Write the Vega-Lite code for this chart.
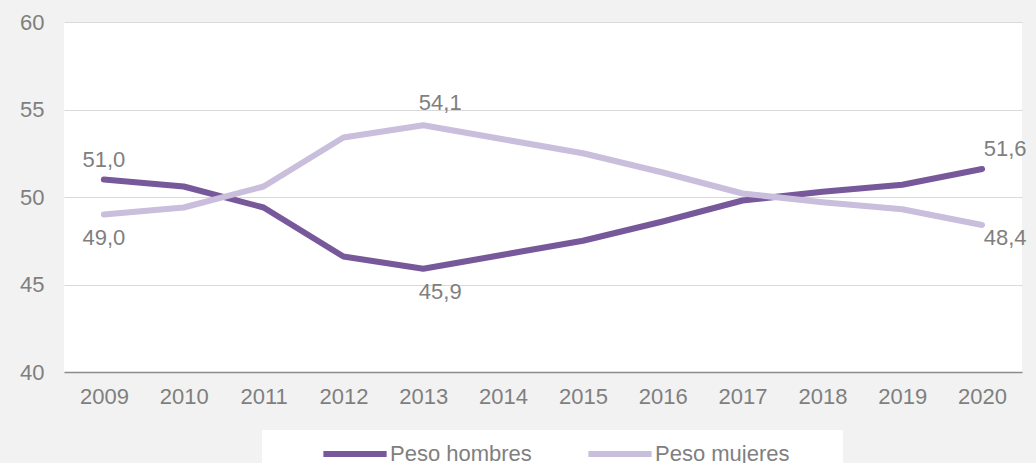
{
  "$schema": "https://vega.github.io/schema/vega-lite/v6.json",
  "width": 958,
  "height": 350,
  "autosize": "none",
  "padding": {"left": 64, "top": 22, "right": 14, "bottom": 91},
  "background": "#f2f2f2",
  "config": {
    "font": "Liberation Sans",
    "view": {"fill": "white", "stroke": null},
    "locale": {"number": {"decimal": ",", "thousands": ".", "grouping": [3], "currency": ["", " €"]}}
  },
  "data": {
    "values": [
      {"year": "2009", "serie": "Peso hombres", "value": 51.0},
      {"year": "2010", "serie": "Peso hombres", "value": 50.6},
      {"year": "2011", "serie": "Peso hombres", "value": 49.4},
      {"year": "2012", "serie": "Peso hombres", "value": 46.6},
      {"year": "2013", "serie": "Peso hombres", "value": 45.9},
      {"year": "2014", "serie": "Peso hombres", "value": 46.7},
      {"year": "2015", "serie": "Peso hombres", "value": 47.5},
      {"year": "2016", "serie": "Peso hombres", "value": 48.6},
      {"year": "2017", "serie": "Peso hombres", "value": 49.8},
      {"year": "2018", "serie": "Peso hombres", "value": 50.3},
      {"year": "2019", "serie": "Peso hombres", "value": 50.7},
      {"year": "2020", "serie": "Peso hombres", "value": 51.6},
      {"year": "2009", "serie": "Peso mujeres", "value": 49.0},
      {"year": "2010", "serie": "Peso mujeres", "value": 49.4},
      {"year": "2011", "serie": "Peso mujeres", "value": 50.6},
      {"year": "2012", "serie": "Peso mujeres", "value": 53.4},
      {"year": "2013", "serie": "Peso mujeres", "value": 54.1},
      {"year": "2014", "serie": "Peso mujeres", "value": 53.3},
      {"year": "2015", "serie": "Peso mujeres", "value": 52.5},
      {"year": "2016", "serie": "Peso mujeres", "value": 51.4},
      {"year": "2017", "serie": "Peso mujeres", "value": 50.2},
      {"year": "2018", "serie": "Peso mujeres", "value": 49.7},
      {"year": "2019", "serie": "Peso mujeres", "value": 49.3},
      {"year": "2020", "serie": "Peso mujeres", "value": 48.4}
    ]
  },
  "encoding": {
    "x": {
      "field": "year", "type": "ordinal",
      "scale": {"type": "point", "padding": 0.5},
      "axis": {
        "title": null, "labelAngle": 0, "labelFontSize": 22, "labelColor": "#7f7f7f",
        "labelPadding": 14, "ticks": false, "domainColor": "#8c8c8c", "domainWidth": 1.5,
        "grid": false
      }
    },
    "y": {
      "field": "value", "type": "quantitative",
      "scale": {"domain": [40, 60], "nice": false, "zero": false},
      "axis": {
        "title": null, "values": [40, 45, 50, 55, 60], "labelFontSize": 22, "labelColor": "#7f7f7f",
        "labelPadding": 20, "ticks": false, "domain": false,
        "gridColor": "#d9d9d9", "gridWidth": 1.2
      }
    },
    "text": {"field": "value", "type": "quantitative", "format": ".1f"}
  },
  "layer": [
    {
      "mark": {"type": "line", "strokeWidth": 6, "strokeCap": "round", "strokeJoin": "round"},
      "encoding": {
        "text": null,
        "color": {
          "field": "serie", "type": "nominal",
          "scale": {"domain": ["Peso hombres", "Peso mujeres"], "range": ["#77589b", "#c9bedb"]},
          "legend": {
            "title": "\u00a0", "titleOrient": "right", "titleFontSize": 19, "titlePadding": 48,
            "orient": "none", "direction": "horizontal",
            "legendX": 198, "legendY": 408,
            "fillColor": "white", "padding": 5,
            "symbolType": "M-2,0H2", "symbolSize": 1000, "symbolStrokeWidth": 6, "symbolOffset": 69,
            "labelFontSize": 22, "labelColor": "#7f7f7f", "labelOffset": 16,
            "columnPadding": 0
          }
        }
      }
    },
    {
      "transform": [{"filter": "datum.year == '2009' && datum.serie == 'Peso hombres'"}],
      "mark": {"type": "text", "fontSize": 22, "color": "#7f7f7f", "dy": -20}
    },
    {
      "transform": [{"filter": "datum.year == '2009' && datum.serie == 'Peso mujeres'"}],
      "mark": {"type": "text", "fontSize": 22, "color": "#7f7f7f", "dy": 23}
    },
    {
      "transform": [{"filter": "datum.year == '2013' && datum.serie == 'Peso mujeres'"}],
      "mark": {"type": "text", "fontSize": 22, "color": "#7f7f7f", "dx": 17, "dy": -22}
    },
    {
      "transform": [{"filter": "datum.year == '2013' && datum.serie == 'Peso hombres'"}],
      "mark": {"type": "text", "fontSize": 22, "color": "#7f7f7f", "dx": 17, "dy": 23}
    },
    {
      "transform": [{"filter": "datum.year == '2020' && datum.serie == 'Peso hombres'"}],
      "mark": {"type": "text", "fontSize": 22, "color": "#7f7f7f", "dx": 23, "dy": -20}
    },
    {
      "transform": [{"filter": "datum.year == '2020' && datum.serie == 'Peso mujeres'"}],
      "mark": {"type": "text", "fontSize": 22, "color": "#7f7f7f", "dx": 23, "dy": 13}
    }
  ]
}
